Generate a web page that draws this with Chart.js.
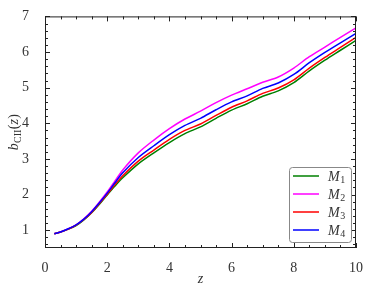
<!DOCTYPE html>
<html>
<head>
<meta charset="utf-8">
<script src="https://cdn.jsdelivr.net/npm/chart.js@4.4.0/dist/chart.umd.min.js"></script>
<style>
  html, body { margin: 0; padding: 0; background: #fff; }
  #c { display: block; }
</style>
</head>
<body>
<canvas id="c" width="374" height="299"></canvas>
<script>
const zVals = [0.3, 0.5, 0.75, 1.0, 1.25, 1.5, 1.75, 2.0, 2.25, 2.5, 3.0, 3.5, 4.0, 4.5, 5.0, 5.5, 6.0, 6.5, 7.0, 7.5, 8.0, 8.5, 9.0, 9.5, 10.0];
const bM1 = [0.9, 0.95, 1.03, 1.13, 1.29, 1.49, 1.73, 1.99, 2.24, 2.47, 2.86, 3.17, 3.46, 3.71, 3.9, 4.14, 4.37, 4.55, 4.76, 4.91, 5.14, 5.47, 5.77, 6.05, 6.33];
const bM2 = [0.9, 0.95, 1.04, 1.15, 1.32, 1.53, 1.79, 2.07, 2.38, 2.69, 3.17, 3.53, 3.85, 4.12, 4.34, 4.58, 4.79, 4.97, 5.15, 5.3, 5.55, 5.87, 6.14, 6.41, 6.68];
const bM3 = [0.9, 0.95, 1.03, 1.14, 1.3, 1.5, 1.75, 2.01, 2.28, 2.53, 2.94, 3.25, 3.55, 3.8, 3.98, 4.22, 4.45, 4.63, 4.84, 4.99, 5.22, 5.55, 5.85, 6.13, 6.41];
const bM4 = [0.9, 0.95, 1.04, 1.15, 1.31, 1.52, 1.77, 2.04, 2.33, 2.61, 3.04, 3.37, 3.68, 3.94, 4.14, 4.38, 4.6, 4.77, 4.98, 5.13, 5.37, 5.7, 5.99, 6.26, 6.52];
const seriesNames = ['1', '2', '3', '4'];
const seriesColors = ['#008000', '#ff00ff', '#ff0000', '#0000ff'];
const xTickVals = [0, 2, 4, 6, 8, 10];
const yTickVals = [1, 2, 3, 4, 5, 6, 7];

const FONT = "'Liberation Serif', 'DejaVu Serif', serif";
const TXT = '#333';

function pts(arr) { return zVals.map((z, i) => ({ x: z, y: arr[i] })); }

const allSeries = [bM1, bM2, bM3, bM4];
const datasets = allSeries.map((arr, i) => ({
  label: 'M' + seriesNames[i],
  data: pts(arr),
  borderColor: seriesColors[i],
  backgroundColor: seriesColors[i],
  borderWidth: 1.5,
  pointRadius: 0,
  tension: 0.3,
  fill: false,
  order: 4 - i
}));

// frame, inward ticks (major + minor), axis titles and legend
const decor = {
  id: 'decor',
  afterDatasetsDraw(chart) {
    const ctx = chart.ctx;
    const a = chart.chartArea;
    const xs = chart.scales.x, ys = chart.scales.y;
    ctx.save();
    ctx.strokeStyle = '#222';
    ctx.lineWidth = 1;
    ctx.strokeRect(a.left + 0.5, a.top + 0.5, a.right - a.left - 1, a.bottom - a.top - 1);
    ctx.beginPath();
    for (let v = 0; v <= 10.001; v += 0.5) {
      const px = Math.round(xs.getPixelForValue(v)) + 0.5;
      const len = (Math.abs(v / 2 - Math.round(v / 2)) < 1e-6) ? 5 : 3;
      ctx.moveTo(px, a.bottom); ctx.lineTo(px, a.bottom - len);
      ctx.moveTo(px, a.top); ctx.lineTo(px, a.top + len);
    }
    for (let v = 0.6; v <= 7.001; v += 0.2) {
      const py = Math.round(ys.getPixelForValue(v)) + 0.5;
      const len = (Math.abs(v - Math.round(v)) < 1e-6) ? 5 : 3;
      ctx.moveTo(a.left, py); ctx.lineTo(a.left + len, py);
      ctx.moveTo(a.right, py); ctx.lineTo(a.right - len, py);
    }
    ctx.stroke();

    // x title
    ctx.fillStyle = TXT;
    ctx.font = 'italic 14px ' + FONT;
    ctx.textAlign = 'center';
    ctx.textBaseline = 'middle';
    ctx.fillText('z', (a.left + a.right) / 2, 279);

    // y title: b_CII(z)
    ctx.save();
    ctx.translate(14, 132);
    ctx.rotate(-Math.PI / 2);
    ctx.textBaseline = 'alphabetic';
    ctx.textAlign = 'left';
    const parts = [
      { t: 'b', f: 'italic 14px ' + FONT, dy: 0 },
      { t: 'CII', f: '10px ' + FONT, dy: 3 },
      { t: '(', f: '14px ' + FONT, dy: 0 },
      { t: 'z', f: 'italic 14px ' + FONT, dy: 0 },
      { t: ')', f: '14px ' + FONT, dy: 0 }
    ];
    let w = 0;
    parts.forEach(p => { ctx.font = p.f; w += ctx.measureText(p.t).width + 0.3; });
    let x = -w / 2;
    parts.forEach(p => { ctx.font = p.f; ctx.fillText(p.t, x, 4 + p.dy); x += ctx.measureText(p.t).width + 0.3; });
    ctx.restore();

    // legend box
    const lx = 289, ly = 167, lw = 62, lh = 75;
    ctx.beginPath();
    ctx.roundRect(lx + 0.5, ly + 0.5, lw, lh, 3);
    ctx.fillStyle = 'rgba(255,255,255,0.85)';
    ctx.fill();
    ctx.strokeStyle = '#888';
    ctx.lineWidth = 1;
    ctx.stroke();
    chart.data.datasets.forEach((ds, i) => {
      const ry = 176 + i * 18;
      ctx.strokeStyle = ds.borderColor;
      ctx.lineWidth = 1.5;
      ctx.beginPath();
      ctx.moveTo(293, ry); ctx.lineTo(319, ry);
      ctx.stroke();
      ctx.fillStyle = TXT;
      ctx.textAlign = 'left';
      ctx.textBaseline = 'alphabetic';
      ctx.font = 'italic 14px ' + FONT;
      ctx.fillText('M', 328, ry + 5);
      const mw = ctx.measureText('M').width;
      ctx.font = '10px ' + FONT;
      ctx.fillText(ds.label.slice(1), 328 + mw + 0.5, ry + 7);
    });
    ctx.restore();
  }
};

new Chart(document.getElementById('c'), {
  type: 'line',
  data: { datasets },
  options: {
    responsive: false,
    animation: false,
    layout: { padding: { left: 0, right: 18, top: 16, bottom: 0 } },
    plugins: { legend: { display: false }, tooltip: { enabled: false } },
    scales: {
      x: {
        type: 'linear', min: 0, max: 10,
        grid: { display: false }, border: { display: false },
        afterBuildTicks: s => { s.ticks = xTickVals.map(v => ({ value: v })); },
        afterFit: s => { s.height = 51; },
        ticks: { color: TXT, font: { family: FONT, size: 14 }, padding: 4, maxRotation: 0 }
      },
      y: {
        type: 'linear', min: 0.5, max: 7,
        grid: { display: false }, border: { display: false },
        afterBuildTicks: s => { s.ticks = yTickVals.map(v => ({ value: v })); },
        afterFit: s => { s.width = 45; },
        ticks: { color: TXT, font: { family: FONT, size: 14 }, padding: 8 }
      }
    }
  },
  plugins: [decor]
});
</script>
</body>
</html>
